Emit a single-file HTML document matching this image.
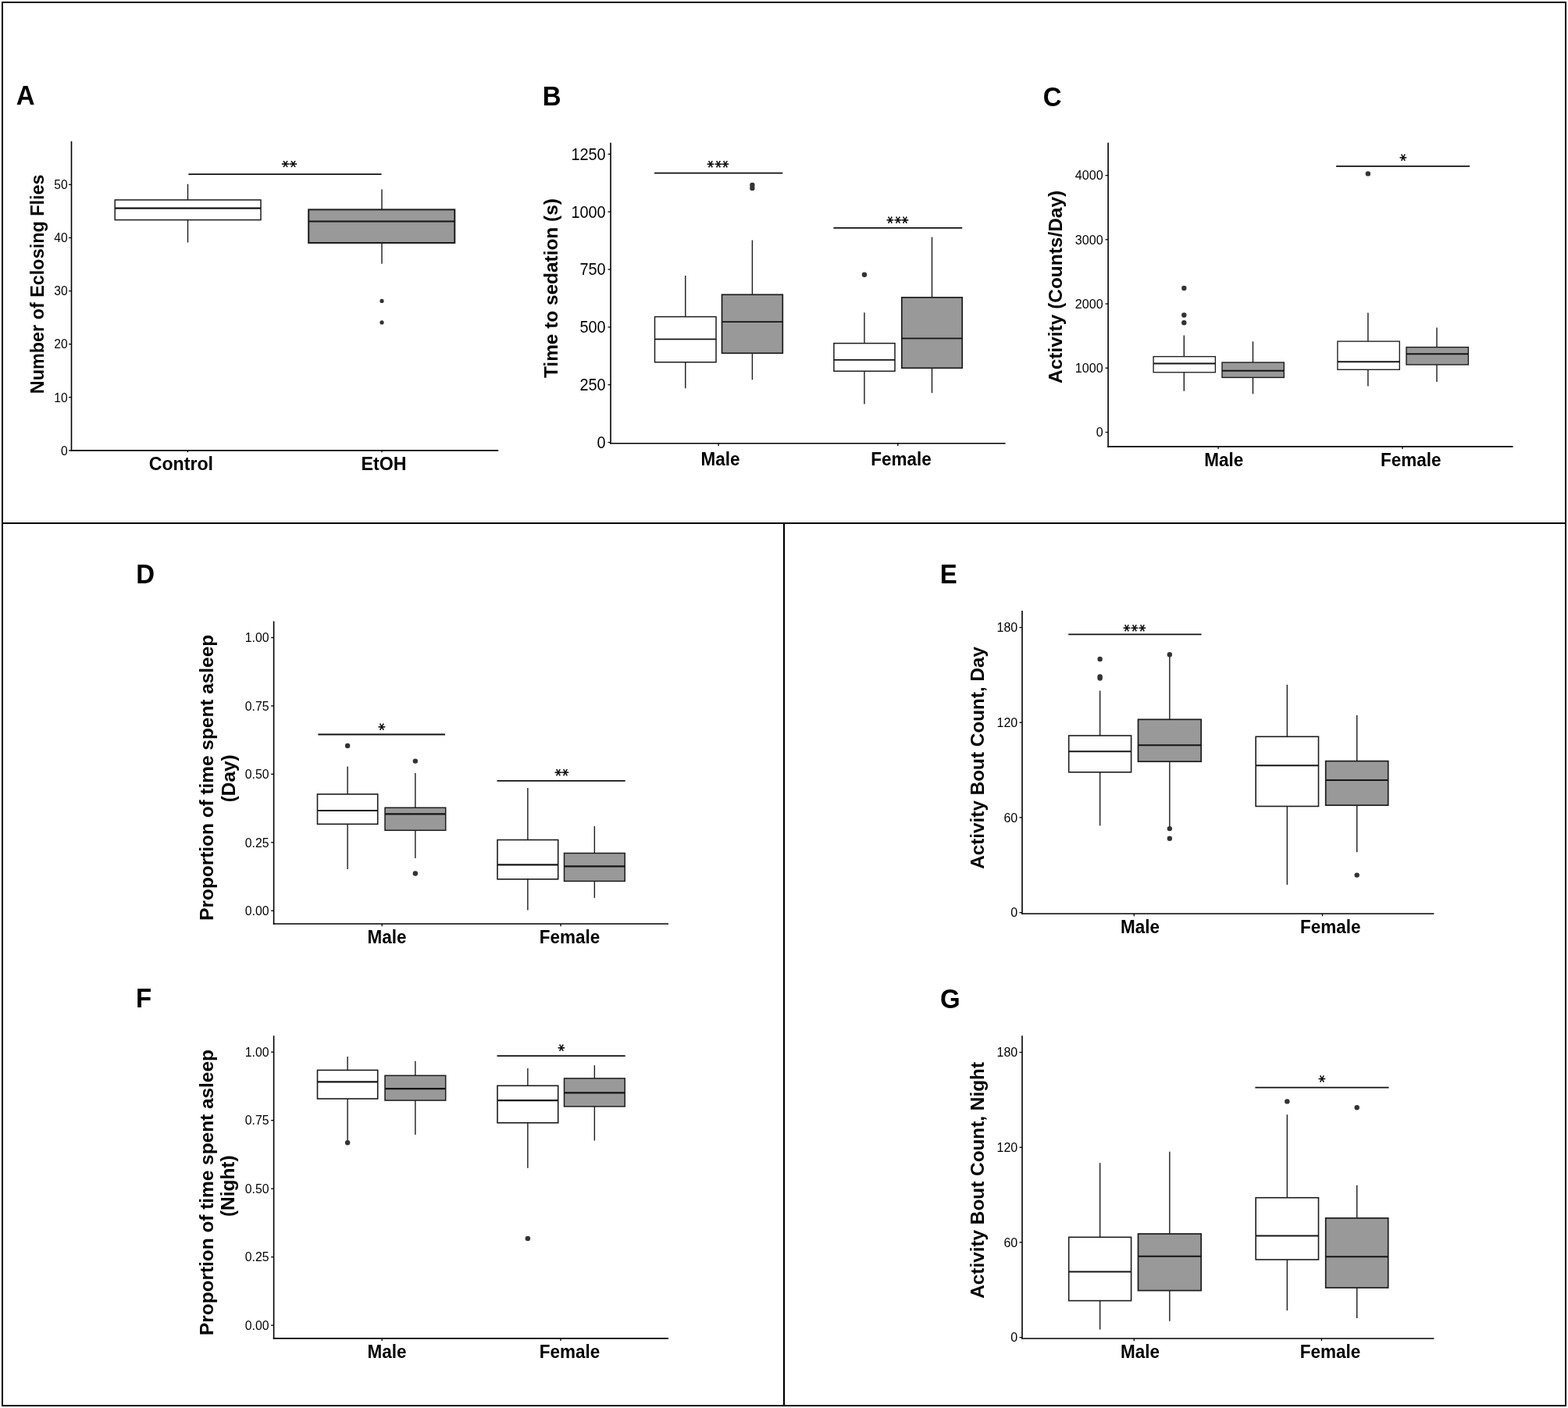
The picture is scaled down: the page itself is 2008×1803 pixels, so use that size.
<!DOCTYPE html>
<html><head><meta charset="utf-8"><title>Figure</title>
<style>html,body{margin:0;padding:0;background:#fff;}svg{display:block;}</style>
</head><body>
<svg width="2008" height="1803" viewBox="0 0 2008 1803">
<rect x="0" y="0" width="2008" height="1803" fill="#fff"/>
<rect x="3" y="3" width="2002" height="1797" fill="none" stroke="#000" stroke-width="2"/>
<line x1="3" y1="670" x2="2005" y2="670" stroke="#000" stroke-width="2"/>
<line x1="1004" y1="670" x2="1004" y2="1800" stroke="#000" stroke-width="2.2"/>
<text transform="translate(20.77 134) scale(1 1.05)" style='font-family:"Liberation Sans",Arial,sans-serif;font-weight:bold;font-size:33px'>A</text>
<text transform="translate(694.81 134.6) scale(1 1.05)" style='font-family:"Liberation Sans",Arial,sans-serif;font-weight:bold;font-size:33px'>B</text>
<text transform="translate(1335.67 135.5) scale(1 1.05)" style='font-family:"Liberation Sans",Arial,sans-serif;font-weight:bold;font-size:33px'>C</text>
<text transform="translate(174.37 747) scale(1 1.05)" style='font-family:"Liberation Sans",Arial,sans-serif;font-weight:bold;font-size:33px'>D</text>
<text transform="translate(1203.78 747.2) scale(1 1.05)" style='font-family:"Liberation Sans",Arial,sans-serif;font-weight:bold;font-size:33px'>E</text>
<text transform="translate(173.95 1290.4) scale(1 1.05)" style='font-family:"Liberation Sans",Arial,sans-serif;font-weight:bold;font-size:33px'>F</text>
<text transform="translate(1204.04 1290.6) scale(1 1.05)" style='font-family:"Liberation Sans",Arial,sans-serif;font-weight:bold;font-size:33px'>G</text>
<line x1="91.5" y1="181" x2="91.5" y2="577.7" stroke="#000" stroke-width="1.6"/>
<line x1="90.7" y1="576.9" x2="638.2" y2="576.9" stroke="#000" stroke-width="1.6"/>
<line x1="88" y1="576.9" x2="91.5" y2="576.9" stroke="#000" stroke-width="1.3"/>
<text transform="translate(78.03 582.61) scale(1 1.065)" style='font-family:"Liberation Sans",Arial,sans-serif;font-size:15.6px'>0</text>
<line x1="88" y1="508.8" x2="91.5" y2="508.8" stroke="#000" stroke-width="1.3"/>
<text transform="translate(69.37 514.51) scale(1 1.065)" style='font-family:"Liberation Sans",Arial,sans-serif;font-size:15.6px'>10</text>
<line x1="88" y1="440.7" x2="91.5" y2="440.7" stroke="#000" stroke-width="1.3"/>
<text transform="translate(69.37 446.41) scale(1 1.065)" style='font-family:"Liberation Sans",Arial,sans-serif;font-size:15.6px'>20</text>
<line x1="88" y1="372.6" x2="91.5" y2="372.6" stroke="#000" stroke-width="1.3"/>
<text transform="translate(69.37 378.31) scale(1 1.065)" style='font-family:"Liberation Sans",Arial,sans-serif;font-size:15.6px'>30</text>
<line x1="88" y1="304.5" x2="91.5" y2="304.5" stroke="#000" stroke-width="1.3"/>
<text transform="translate(69.37 310.21) scale(1 1.065)" style='font-family:"Liberation Sans",Arial,sans-serif;font-size:15.6px'>40</text>
<line x1="88" y1="236.4" x2="91.5" y2="236.4" stroke="#000" stroke-width="1.3"/>
<text transform="translate(69.37 242.11) scale(1 1.065)" style='font-family:"Liberation Sans",Arial,sans-serif;font-size:15.6px'>50</text>
<line x1="240.4" y1="576.9" x2="240.4" y2="579.2" stroke="#000" stroke-width="1.3"/>
<line x1="489" y1="576.9" x2="489" y2="579.2" stroke="#000" stroke-width="1.3"/>
<line x1="240.5" y1="235.7" x2="240.5" y2="256" stroke="#1c1c1c" stroke-width="1.4"/>
<line x1="240.5" y1="281.6" x2="240.5" y2="310.5" stroke="#1c1c1c" stroke-width="1.4"/>
<rect x="147.2" y="256" width="186.8" height="25.6" fill="#ffffff" stroke="#1c1c1c" stroke-width="1.5"/>
<line x1="147.2" y1="266.6" x2="334" y2="266.6" stroke="#151515" stroke-width="2.2"/>
<line x1="489" y1="242.4" x2="489" y2="268.4" stroke="#1c1c1c" stroke-width="1.4"/>
<line x1="489" y1="311" x2="489" y2="337.7" stroke="#1c1c1c" stroke-width="1.4"/>
<rect x="395.2" y="268.4" width="187.1" height="42.6" fill="#999999" stroke="#1c1c1c" stroke-width="2.0"/>
<line x1="395.2" y1="283.5" x2="582.3" y2="283.5" stroke="#151515" stroke-width="2.2"/>
<circle cx="489" cy="385.4" r="2.6" fill="#333"/>
<circle cx="489" cy="412.9" r="2.6" fill="#333"/>
<line x1="241.4" y1="223.2" x2="488.5" y2="223.2" stroke="#111" stroke-width="1.8"/>
<text transform="translate(355.71 205.49) scale(1 0.95)" rotate="90 90" stroke="#000" stroke-width="0.5" style='font-family:"DejaVu Sans",sans-serif;font-size:19px;letter-spacing:0.5px'>**</text>
<text x="56.5" y="504.22" transform="rotate(-90 56.5 504.22)" style='font-family:"Liberation Sans",Arial,sans-serif;font-weight:bold;font-size:23.4px'>Number of Eclosing Flies</text>
<text transform="translate(190.66 601.6) scale(1 1.05)" style='font-family:"Liberation Sans",Arial,sans-serif;font-weight:bold;font-size:23.2px'>Control</text>
<text transform="translate(462.55 601.6) scale(1 1.05)" style='font-family:"Liberation Sans",Arial,sans-serif;font-weight:bold;font-size:23.2px'>EtOH</text>
<line x1="782" y1="182.7" x2="782" y2="568.6" stroke="#000" stroke-width="1.6"/>
<line x1="781.2" y1="567.8" x2="1287.6" y2="567.8" stroke="#000" stroke-width="1.6"/>
<line x1="778.5" y1="566.5" x2="782" y2="566.5" stroke="#000" stroke-width="1.3"/>
<text transform="translate(764.6 573.79) scale(1 1.065)" style='font-family:"Liberation Sans",Arial,sans-serif;font-size:19.9px'>0</text>
<line x1="778.5" y1="492.68" x2="782" y2="492.68" stroke="#000" stroke-width="1.3"/>
<text transform="translate(742.46 499.97) scale(1 1.065)" style='font-family:"Liberation Sans",Arial,sans-serif;font-size:19.9px'>250</text>
<line x1="778.5" y1="418.86" x2="782" y2="418.86" stroke="#000" stroke-width="1.3"/>
<text transform="translate(742.46 426.15) scale(1 1.065)" style='font-family:"Liberation Sans",Arial,sans-serif;font-size:19.9px'>500</text>
<line x1="778.5" y1="345.04" x2="782" y2="345.04" stroke="#000" stroke-width="1.3"/>
<text transform="translate(742.46 352.33) scale(1 1.065)" style='font-family:"Liberation Sans",Arial,sans-serif;font-size:19.9px'>750</text>
<line x1="778.5" y1="271.22" x2="782" y2="271.22" stroke="#000" stroke-width="1.3"/>
<text transform="translate(731.42 278.51) scale(1 1.065)" style='font-family:"Liberation Sans",Arial,sans-serif;font-size:19.9px'>1000</text>
<line x1="778.5" y1="197.4" x2="782" y2="197.4" stroke="#000" stroke-width="1.3"/>
<text transform="translate(731.42 204.69) scale(1 1.065)" style='font-family:"Liberation Sans",Arial,sans-serif;font-size:19.9px'>1250</text>
<line x1="920.1" y1="567.8" x2="920.1" y2="571" stroke="#000" stroke-width="1.3"/>
<line x1="1149.8" y1="567.8" x2="1149.8" y2="571" stroke="#000" stroke-width="1.3"/>
<line x1="877.75" y1="353.1" x2="877.75" y2="405.6" stroke="#1c1c1c" stroke-width="1.4"/>
<line x1="877.75" y1="463.8" x2="877.75" y2="497.2" stroke="#1c1c1c" stroke-width="1.4"/>
<rect x="838.5" y="405.6" width="78.5" height="58.2" fill="#ffffff" stroke="#1c1c1c" stroke-width="1.5"/>
<line x1="838.5" y1="434.4" x2="917" y2="434.4" stroke="#151515" stroke-width="1.8"/>
<line x1="963.4" y1="307.6" x2="963.4" y2="377.3" stroke="#1c1c1c" stroke-width="1.4"/>
<line x1="963.4" y1="452.3" x2="963.4" y2="486.3" stroke="#1c1c1c" stroke-width="1.4"/>
<rect x="924.5" y="377.3" width="77.8" height="75" fill="#999999" stroke="#1c1c1c" stroke-width="1.7"/>
<line x1="924.5" y1="412.2" x2="1002.3" y2="412.2" stroke="#151515" stroke-width="1.8"/>
<circle cx="963.4" cy="237" r="3.2" fill="#333"/>
<circle cx="963.4" cy="241" r="3.2" fill="#333"/>
<line x1="1106.95" y1="400.2" x2="1106.95" y2="439.6" stroke="#1c1c1c" stroke-width="1.4"/>
<line x1="1106.95" y1="475.3" x2="1106.95" y2="517.5" stroke="#1c1c1c" stroke-width="1.4"/>
<rect x="1067.9" y="439.6" width="78.1" height="35.7" fill="#ffffff" stroke="#1c1c1c" stroke-width="1.5"/>
<line x1="1067.9" y1="460.8" x2="1146" y2="460.8" stroke="#151515" stroke-width="1.8"/>
<circle cx="1106.95" cy="351.7" r="3.2" fill="#333"/>
<line x1="1193.5" y1="303.6" x2="1193.5" y2="380.9" stroke="#1c1c1c" stroke-width="1.4"/>
<line x1="1193.5" y1="471.3" x2="1193.5" y2="503.2" stroke="#1c1c1c" stroke-width="1.4"/>
<rect x="1154.8" y="380.9" width="77.4" height="90.4" fill="#999999" stroke="#1c1c1c" stroke-width="1.7"/>
<line x1="1154.8" y1="433.4" x2="1232.2" y2="433.4" stroke="#151515" stroke-width="1.8"/>
<line x1="838" y1="221.6" x2="1002.3" y2="221.6" stroke="#111" stroke-width="1.8"/>
<text transform="translate(901.04 205.57) scale(1 1.07)" rotate="90 90 90" stroke="#000" stroke-width="0.5" style='font-family:"DejaVu Sans",sans-serif;font-size:17.5px;letter-spacing:0.95px'>***</text>
<line x1="1067.4" y1="291.8" x2="1232.2" y2="291.8" stroke="#111" stroke-width="1.8"/>
<text transform="translate(1131.04 276.97) scale(1 1.07)" rotate="90 90 90" stroke="#000" stroke-width="0.5" style='font-family:"DejaVu Sans",sans-serif;font-size:17.5px;letter-spacing:0.95px'>***</text>
<text x="713.7" y="484.08" transform="rotate(-90 713.7 484.08)" style='font-family:"Liberation Sans",Arial,sans-serif;font-weight:bold;font-size:24.4px'>Time to sedation (s)</text>
<text transform="translate(897.5 595.9) scale(1 1.03)" style='font-family:"Liberation Sans",Arial,sans-serif;font-weight:bold;font-size:22.5px'>Male</text>
<text transform="translate(1115.3 595.9) scale(1 1.03)" style='font-family:"Liberation Sans",Arial,sans-serif;font-weight:bold;font-size:22.5px'>Female</text>
<line x1="1419.1" y1="182.7" x2="1419.1" y2="572.7" stroke="#000" stroke-width="1.6"/>
<line x1="1418.3" y1="571.9" x2="1937.6" y2="571.9" stroke="#000" stroke-width="1.6"/>
<line x1="1415.6" y1="553.5" x2="1419.1" y2="553.5" stroke="#000" stroke-width="1.3"/>
<text transform="translate(1403.67 559.39) scale(1 1.065)" style='font-family:"Liberation Sans",Arial,sans-serif;font-size:16.1px'>0</text>
<line x1="1415.6" y1="471.27" x2="1419.1" y2="471.27" stroke="#000" stroke-width="1.3"/>
<text transform="translate(1376.82 477.17) scale(1 1.065)" style='font-family:"Liberation Sans",Arial,sans-serif;font-size:16.1px'>1000</text>
<line x1="1415.6" y1="389.05" x2="1419.1" y2="389.05" stroke="#000" stroke-width="1.3"/>
<text transform="translate(1376.82 394.94) scale(1 1.065)" style='font-family:"Liberation Sans",Arial,sans-serif;font-size:16.1px'>2000</text>
<line x1="1415.6" y1="306.82" x2="1419.1" y2="306.82" stroke="#000" stroke-width="1.3"/>
<text transform="translate(1376.82 312.72) scale(1 1.065)" style='font-family:"Liberation Sans",Arial,sans-serif;font-size:16.1px'>3000</text>
<line x1="1415.6" y1="224.6" x2="1419.1" y2="224.6" stroke="#000" stroke-width="1.3"/>
<text transform="translate(1376.82 230.49) scale(1 1.065)" style='font-family:"Liberation Sans",Arial,sans-serif;font-size:16.1px'>4000</text>
<line x1="1560.1" y1="571.9" x2="1560.1" y2="575.1" stroke="#000" stroke-width="1.3"/>
<line x1="1796" y1="571.9" x2="1796" y2="575.1" stroke="#000" stroke-width="1.3"/>
<line x1="1516.3" y1="429.5" x2="1516.3" y2="456.6" stroke="#1c1c1c" stroke-width="1.4"/>
<line x1="1516.3" y1="476.8" x2="1516.3" y2="500.7" stroke="#1c1c1c" stroke-width="1.4"/>
<rect x="1477.1" y="456.6" width="79.3" height="20.2" fill="#ffffff" stroke="#1c1c1c" stroke-width="1.35"/>
<line x1="1477.1" y1="465.5" x2="1556.4" y2="465.5" stroke="#151515" stroke-width="2.1"/>
<circle cx="1516.3" cy="369" r="3.2" fill="#333"/>
<circle cx="1516.3" cy="403.5" r="3.2" fill="#333"/>
<circle cx="1516.3" cy="413.3" r="3.2" fill="#333"/>
<line x1="1604.5" y1="437.3" x2="1604.5" y2="464.1" stroke="#1c1c1c" stroke-width="1.4"/>
<line x1="1604.5" y1="483.4" x2="1604.5" y2="504.4" stroke="#1c1c1c" stroke-width="1.4"/>
<rect x="1565" y="464.1" width="79.3" height="19.3" fill="#999999" stroke="#1c1c1c" stroke-width="1.4"/>
<line x1="1565" y1="474.7" x2="1644.3" y2="474.7" stroke="#151515" stroke-width="2.1"/>
<line x1="1751.9" y1="400.4" x2="1751.9" y2="437.1" stroke="#1c1c1c" stroke-width="1.4"/>
<line x1="1751.9" y1="473.3" x2="1751.9" y2="494.5" stroke="#1c1c1c" stroke-width="1.4"/>
<rect x="1712.9" y="437.1" width="79.4" height="36.2" fill="#ffffff" stroke="#1c1c1c" stroke-width="1.35"/>
<line x1="1712.9" y1="463.3" x2="1792.3" y2="463.3" stroke="#151515" stroke-width="2.1"/>
<circle cx="1751.9" cy="222.4" r="3.2" fill="#333"/>
<line x1="1840" y1="419.6" x2="1840" y2="444.6" stroke="#1c1c1c" stroke-width="1.4"/>
<line x1="1840" y1="467" x2="1840" y2="489" stroke="#1c1c1c" stroke-width="1.4"/>
<rect x="1801" y="444.6" width="79.4" height="22.4" fill="#999999" stroke="#1c1c1c" stroke-width="1.4"/>
<line x1="1801" y1="453.3" x2="1880.4" y2="453.3" stroke="#151515" stroke-width="2.1"/>
<line x1="1711.1" y1="212.9" x2="1882.1" y2="212.9" stroke="#111" stroke-width="1.8"/>
<text transform="translate(1787.89 196.92) scale(1 1.07)" rotate="90" stroke="#000" stroke-width="0.5" style='font-family:"DejaVu Sans",sans-serif;font-size:17.5px;letter-spacing:0.95px'>*</text>
<text x="1360.1" y="490.92" transform="rotate(-90 1360.1 490.92)" style='font-family:"Liberation Sans",Arial,sans-serif;font-weight:bold;font-size:24.45px'>Activity (Counts/Day)</text>
<text transform="translate(1542.3 596.9) scale(1 1.03)" style='font-family:"Liberation Sans",Arial,sans-serif;font-weight:bold;font-size:22.5px'>Male</text>
<text transform="translate(1768.1 596.9) scale(1 1.03)" style='font-family:"Liberation Sans",Arial,sans-serif;font-weight:bold;font-size:22.5px'>Female</text>
<line x1="350.6" y1="795.6" x2="350.6" y2="1183.8" stroke="#000" stroke-width="1.6"/>
<line x1="349.8" y1="1183" x2="856" y2="1183" stroke="#000" stroke-width="1.6"/>
<line x1="347.1" y1="1166.2" x2="350.6" y2="1166.2" stroke="#000" stroke-width="1.3"/>
<text transform="translate(313.76 1171.98) scale(1 1.065)" style='font-family:"Liberation Sans",Arial,sans-serif;font-size:15.8px'>0.00</text>
<line x1="347.1" y1="1078.78" x2="350.6" y2="1078.78" stroke="#000" stroke-width="1.3"/>
<text transform="translate(313.8 1084.56) scale(1 1.065)" style='font-family:"Liberation Sans",Arial,sans-serif;font-size:15.8px'>0.25</text>
<line x1="347.1" y1="991.35" x2="350.6" y2="991.35" stroke="#000" stroke-width="1.3"/>
<text transform="translate(313.76 997.13) scale(1 1.065)" style='font-family:"Liberation Sans",Arial,sans-serif;font-size:15.8px'>0.50</text>
<line x1="347.1" y1="903.93" x2="350.6" y2="903.93" stroke="#000" stroke-width="1.3"/>
<text transform="translate(313.8 909.71) scale(1 1.065)" style='font-family:"Liberation Sans",Arial,sans-serif;font-size:15.8px'>0.75</text>
<line x1="347.1" y1="816.5" x2="350.6" y2="816.5" stroke="#000" stroke-width="1.3"/>
<text transform="translate(313.76 822.28) scale(1 1.065)" style='font-family:"Liberation Sans",Arial,sans-serif;font-size:15.8px'>1.00</text>
<line x1="489.2" y1="1183" x2="489.2" y2="1186.2" stroke="#000" stroke-width="1.3"/>
<line x1="718" y1="1183" x2="718" y2="1186.2" stroke="#000" stroke-width="1.3"/>
<line x1="445.1" y1="981.5" x2="445.1" y2="1017" stroke="#1c1c1c" stroke-width="1.4"/>
<line x1="445.1" y1="1055.3" x2="445.1" y2="1113" stroke="#1c1c1c" stroke-width="1.4"/>
<rect x="406.5" y="1017" width="77.2" height="38.3" fill="#ffffff" stroke="#1c1c1c" stroke-width="1.6"/>
<line x1="406.5" y1="1038" x2="483.7" y2="1038" stroke="#151515" stroke-width="2.2"/>
<circle cx="445.1" cy="955" r="3.2" fill="#333"/>
<line x1="531.85" y1="990" x2="531.85" y2="1034.3" stroke="#1c1c1c" stroke-width="1.4"/>
<line x1="531.85" y1="1063.3" x2="531.85" y2="1099" stroke="#1c1c1c" stroke-width="1.4"/>
<rect x="493" y="1034.3" width="77.7" height="29" fill="#999999" stroke="#1c1c1c" stroke-width="1.5"/>
<line x1="493" y1="1042.4" x2="570.7" y2="1042.4" stroke="#151515" stroke-width="2.2"/>
<circle cx="531.85" cy="974.6" r="3.2" fill="#333"/>
<circle cx="531.85" cy="1118.5" r="3.2" fill="#333"/>
<line x1="675.85" y1="1009" x2="675.85" y2="1075.5" stroke="#1c1c1c" stroke-width="1.4"/>
<line x1="675.85" y1="1125.8" x2="675.85" y2="1165.5" stroke="#1c1c1c" stroke-width="1.4"/>
<rect x="637" y="1075.5" width="77.7" height="50.3" fill="#ffffff" stroke="#1c1c1c" stroke-width="1.6"/>
<line x1="637" y1="1107.3" x2="714.7" y2="1107.3" stroke="#151515" stroke-width="2.2"/>
<line x1="761.35" y1="1058" x2="761.35" y2="1092.5" stroke="#1c1c1c" stroke-width="1.4"/>
<line x1="761.35" y1="1128.4" x2="761.35" y2="1149.8" stroke="#1c1c1c" stroke-width="1.4"/>
<rect x="722.5" y="1092.5" width="77.7" height="35.9" fill="#999999" stroke="#1c1c1c" stroke-width="1.5"/>
<line x1="722.5" y1="1109.4" x2="800.2" y2="1109.4" stroke="#151515" stroke-width="2.2"/>
<line x1="407.3" y1="940.5" x2="570" y2="940.5" stroke="#111" stroke-width="1.8"/>
<text transform="translate(479.89 926.12) scale(1 1.07)" rotate="90" stroke="#000" stroke-width="0.5" style='font-family:"DejaVu Sans",sans-serif;font-size:17.5px;letter-spacing:0.95px'>*</text>
<line x1="636.5" y1="999.9" x2="800.7" y2="999.9" stroke="#111" stroke-width="1.8"/>
<text transform="translate(705.79 984.42) scale(1 1.07)" rotate="90 90" stroke="#000" stroke-width="0.5" style='font-family:"DejaVu Sans",sans-serif;font-size:17.5px;letter-spacing:0.95px'>**</text>
<text x="273.3" y="1178.77" transform="rotate(-90 273.3 1178.77)" style='font-family:"Liberation Sans",Arial,sans-serif;font-weight:bold;font-size:24.4px'>Proportion of time spent asleep</text>
<text x="301.3" y="1027.35" transform="rotate(-90 301.3 1027.35)" style='font-family:"Liberation Sans",Arial,sans-serif;font-weight:bold;font-size:24.4px'>(Day)</text>
<text transform="translate(470.6 1207.6) scale(1 1.03)" style='font-family:"Liberation Sans",Arial,sans-serif;font-weight:bold;font-size:22.5px'>Male</text>
<text transform="translate(690.65 1207.6) scale(1 1.03)" style='font-family:"Liberation Sans",Arial,sans-serif;font-weight:bold;font-size:22.5px'>Female</text>
<line x1="350.6" y1="1326.3" x2="350.6" y2="1714.7" stroke="#000" stroke-width="1.6"/>
<line x1="349.8" y1="1713.9" x2="856" y2="1713.9" stroke="#000" stroke-width="1.6"/>
<line x1="347.1" y1="1697.1" x2="350.6" y2="1697.1" stroke="#000" stroke-width="1.3"/>
<text transform="translate(313.76 1702.88) scale(1 1.065)" style='font-family:"Liberation Sans",Arial,sans-serif;font-size:15.8px'>0.00</text>
<line x1="347.1" y1="1609.62" x2="350.6" y2="1609.62" stroke="#000" stroke-width="1.3"/>
<text transform="translate(313.8 1615.41) scale(1 1.065)" style='font-family:"Liberation Sans",Arial,sans-serif;font-size:15.8px'>0.25</text>
<line x1="347.1" y1="1522.15" x2="350.6" y2="1522.15" stroke="#000" stroke-width="1.3"/>
<text transform="translate(313.76 1527.93) scale(1 1.065)" style='font-family:"Liberation Sans",Arial,sans-serif;font-size:15.8px'>0.50</text>
<line x1="347.1" y1="1434.67" x2="350.6" y2="1434.67" stroke="#000" stroke-width="1.3"/>
<text transform="translate(313.8 1440.46) scale(1 1.065)" style='font-family:"Liberation Sans",Arial,sans-serif;font-size:15.8px'>0.75</text>
<line x1="347.1" y1="1347.2" x2="350.6" y2="1347.2" stroke="#000" stroke-width="1.3"/>
<text transform="translate(313.76 1352.98) scale(1 1.065)" style='font-family:"Liberation Sans",Arial,sans-serif;font-size:15.8px'>1.00</text>
<line x1="489.2" y1="1713.9" x2="489.2" y2="1717.1" stroke="#000" stroke-width="1.3"/>
<line x1="718" y1="1713.9" x2="718" y2="1717.1" stroke="#000" stroke-width="1.3"/>
<line x1="445.1" y1="1353.1" x2="445.1" y2="1370.4" stroke="#1c1c1c" stroke-width="1.4"/>
<line x1="445.1" y1="1407" x2="445.1" y2="1460" stroke="#1c1c1c" stroke-width="1.4"/>
<rect x="406.5" y="1370.4" width="77.2" height="36.6" fill="#ffffff" stroke="#1c1c1c" stroke-width="1.6"/>
<line x1="406.5" y1="1385.4" x2="483.7" y2="1385.4" stroke="#151515" stroke-width="2.2"/>
<circle cx="445.1" cy="1463.2" r="3.2" fill="#333"/>
<line x1="531.85" y1="1358.8" x2="531.85" y2="1377.3" stroke="#1c1c1c" stroke-width="1.4"/>
<line x1="531.85" y1="1409.1" x2="531.85" y2="1452.9" stroke="#1c1c1c" stroke-width="1.4"/>
<rect x="493" y="1377.3" width="77.7" height="31.8" fill="#999999" stroke="#1c1c1c" stroke-width="1.5"/>
<line x1="493" y1="1394.2" x2="570.7" y2="1394.2" stroke="#151515" stroke-width="2.2"/>
<line x1="675.85" y1="1367.9" x2="675.85" y2="1390.3" stroke="#1c1c1c" stroke-width="1.4"/>
<line x1="675.85" y1="1437.8" x2="675.85" y2="1495.7" stroke="#1c1c1c" stroke-width="1.4"/>
<rect x="637" y="1390.3" width="77.7" height="47.5" fill="#ffffff" stroke="#1c1c1c" stroke-width="1.6"/>
<line x1="637" y1="1409.1" x2="714.7" y2="1409.1" stroke="#151515" stroke-width="2.2"/>
<circle cx="675.85" cy="1585.9" r="3.2" fill="#333"/>
<line x1="761.35" y1="1364.2" x2="761.35" y2="1380.9" stroke="#1c1c1c" stroke-width="1.4"/>
<line x1="761.35" y1="1416.9" x2="761.35" y2="1460.5" stroke="#1c1c1c" stroke-width="1.4"/>
<rect x="722.5" y="1380.9" width="77.7" height="36" fill="#999999" stroke="#1c1c1c" stroke-width="1.5"/>
<line x1="722.5" y1="1399.4" x2="800.2" y2="1399.4" stroke="#151515" stroke-width="2.2"/>
<line x1="636.5" y1="1352.2" x2="800.7" y2="1352.2" stroke="#111" stroke-width="1.8"/>
<text transform="translate(709.99 1337.02) scale(1 1.07)" rotate="90" stroke="#000" stroke-width="0.5" style='font-family:"DejaVu Sans",sans-serif;font-size:17.5px;letter-spacing:0.95px'>*</text>
<text x="273.3" y="1710.02" transform="rotate(-90 273.3 1710.02)" style='font-family:"Liberation Sans",Arial,sans-serif;font-weight:bold;font-size:24.4px'>Proportion of time spent asleep</text>
<text x="300.5" y="1558.03" transform="rotate(-90 300.5 1558.03)" style='font-family:"Liberation Sans",Arial,sans-serif;font-weight:bold;font-size:24.4px'>(Night)</text>
<text transform="translate(470.5 1738.6) scale(1 1.03)" style='font-family:"Liberation Sans",Arial,sans-serif;font-weight:bold;font-size:22.5px'>Male</text>
<text transform="translate(690.65 1738.6) scale(1 1.03)" style='font-family:"Liberation Sans",Arial,sans-serif;font-weight:bold;font-size:22.5px'>Female</text>
<line x1="1309" y1="782.1" x2="1309" y2="1170.8" stroke="#000" stroke-width="1.6"/>
<line x1="1308.2" y1="1170" x2="1836.4" y2="1170" stroke="#000" stroke-width="1.6"/>
<line x1="1305.5" y1="1168.6" x2="1309" y2="1168.6" stroke="#000" stroke-width="1.3"/>
<text transform="translate(1294.32 1174.46) scale(1 1.065)" style='font-family:"Liberation Sans",Arial,sans-serif;font-size:16px'>0</text>
<line x1="1305.5" y1="1046.9" x2="1309" y2="1046.9" stroke="#000" stroke-width="1.3"/>
<text transform="translate(1285.44 1052.76) scale(1 1.065)" style='font-family:"Liberation Sans",Arial,sans-serif;font-size:16px'>60</text>
<line x1="1305.5" y1="925.2" x2="1309" y2="925.2" stroke="#000" stroke-width="1.3"/>
<text transform="translate(1276.52 931.06) scale(1 1.065)" style='font-family:"Liberation Sans",Arial,sans-serif;font-size:16px'>120</text>
<line x1="1305.5" y1="803.51" x2="1309" y2="803.51" stroke="#000" stroke-width="1.3"/>
<text transform="translate(1276.52 809.36) scale(1 1.065)" style='font-family:"Liberation Sans",Arial,sans-serif;font-size:16px'>180</text>
<line x1="1452.3" y1="1170" x2="1452.3" y2="1173.2" stroke="#000" stroke-width="1.3"/>
<line x1="1693.5" y1="1170" x2="1693.5" y2="1173.2" stroke="#000" stroke-width="1.3"/>
<line x1="1408.65" y1="884.4" x2="1408.65" y2="942" stroke="#1c1c1c" stroke-width="1.4"/>
<line x1="1408.65" y1="988.8" x2="1408.65" y2="1057.4" stroke="#1c1c1c" stroke-width="1.4"/>
<rect x="1368.7" y="942" width="79.9" height="46.8" fill="#ffffff" stroke="#1c1c1c" stroke-width="1.6"/>
<line x1="1368.7" y1="962.2" x2="1448.6" y2="962.2" stroke="#151515" stroke-width="2.0"/>
<circle cx="1408.65" cy="844" r="3.2" fill="#333"/>
<circle cx="1408.65" cy="866.5" r="3.2" fill="#333"/>
<circle cx="1408.65" cy="868.5" r="3.2" fill="#333"/>
<line x1="1497.85" y1="838.3" x2="1497.85" y2="921.3" stroke="#1c1c1c" stroke-width="1.4"/>
<line x1="1497.85" y1="975.2" x2="1497.85" y2="1061.1" stroke="#1c1c1c" stroke-width="1.4"/>
<rect x="1457.5" y="921.3" width="80.7" height="53.9" fill="#999999" stroke="#1c1c1c" stroke-width="1.7"/>
<line x1="1457.5" y1="954.2" x2="1538.2" y2="954.2" stroke="#151515" stroke-width="2.0"/>
<circle cx="1497.85" cy="838.3" r="3.2" fill="#333"/>
<circle cx="1497.85" cy="1061.1" r="3.2" fill="#333"/>
<circle cx="1497.85" cy="1073.8" r="3.2" fill="#333"/>
<line x1="1648.35" y1="876.8" x2="1648.35" y2="943.3" stroke="#1c1c1c" stroke-width="1.4"/>
<line x1="1648.35" y1="1032.5" x2="1648.35" y2="1132.9" stroke="#1c1c1c" stroke-width="1.4"/>
<rect x="1608.2" y="943.3" width="80.3" height="89.2" fill="#ffffff" stroke="#1c1c1c" stroke-width="1.6"/>
<line x1="1608.2" y1="980.3" x2="1688.5" y2="980.3" stroke="#151515" stroke-width="2.0"/>
<line x1="1737.7" y1="915.9" x2="1737.7" y2="974.6" stroke="#1c1c1c" stroke-width="1.4"/>
<line x1="1737.7" y1="1031.2" x2="1737.7" y2="1091.2" stroke="#1c1c1c" stroke-width="1.4"/>
<rect x="1697.7" y="974.6" width="80" height="56.6" fill="#999999" stroke="#1c1c1c" stroke-width="1.7"/>
<line x1="1697.7" y1="999.1" x2="1777.7" y2="999.1" stroke="#151515" stroke-width="2.0"/>
<circle cx="1737.7" cy="1120.6" r="3.2" fill="#333"/>
<line x1="1368.2" y1="812.3" x2="1538.6" y2="812.3" stroke="#111" stroke-width="1.8"/>
<text transform="translate(1434.19 799.62) scale(1 1.07)" rotate="90 90 90" stroke="#000" stroke-width="0.5" style='font-family:"DejaVu Sans",sans-serif;font-size:17.5px;letter-spacing:0.95px'>***</text>
<text x="1260.1" y="1112.82" transform="rotate(-90 1260.1 1112.82)" style='font-family:"Liberation Sans",Arial,sans-serif;font-weight:bold;font-size:24.3px'>Activity Bout Count, Day</text>
<text transform="translate(1435.1 1194.8) scale(1 1.03)" style='font-family:"Liberation Sans",Arial,sans-serif;font-weight:bold;font-size:22.5px'>Male</text>
<text transform="translate(1664.9 1194.8) scale(1 1.03)" style='font-family:"Liberation Sans",Arial,sans-serif;font-weight:bold;font-size:22.5px'>Female</text>
<line x1="1309" y1="1326.3" x2="1309" y2="1714.8" stroke="#000" stroke-width="1.6"/>
<line x1="1308.2" y1="1714" x2="1836.4" y2="1714" stroke="#000" stroke-width="1.6"/>
<line x1="1305.5" y1="1712.6" x2="1309" y2="1712.6" stroke="#000" stroke-width="1.3"/>
<text transform="translate(1294.32 1718.46) scale(1 1.065)" style='font-family:"Liberation Sans",Arial,sans-serif;font-size:16px'>0</text>
<line x1="1305.5" y1="1590.9" x2="1309" y2="1590.9" stroke="#000" stroke-width="1.3"/>
<text transform="translate(1285.44 1596.76) scale(1 1.065)" style='font-family:"Liberation Sans",Arial,sans-serif;font-size:16px'>60</text>
<line x1="1305.5" y1="1469.2" x2="1309" y2="1469.2" stroke="#000" stroke-width="1.3"/>
<text transform="translate(1276.52 1475.06) scale(1 1.065)" style='font-family:"Liberation Sans",Arial,sans-serif;font-size:16px'>120</text>
<line x1="1305.5" y1="1347.51" x2="1309" y2="1347.51" stroke="#000" stroke-width="1.3"/>
<text transform="translate(1276.52 1353.36) scale(1 1.065)" style='font-family:"Liberation Sans",Arial,sans-serif;font-size:16px'>180</text>
<line x1="1452.3" y1="1714" x2="1452.3" y2="1717.2" stroke="#000" stroke-width="1.3"/>
<line x1="1692.4" y1="1714" x2="1692.4" y2="1717.2" stroke="#000" stroke-width="1.3"/>
<line x1="1408.65" y1="1489.2" x2="1408.65" y2="1584.3" stroke="#1c1c1c" stroke-width="1.4"/>
<line x1="1408.65" y1="1665.6" x2="1408.65" y2="1702.5" stroke="#1c1c1c" stroke-width="1.4"/>
<rect x="1368.7" y="1584.3" width="79.9" height="81.3" fill="#ffffff" stroke="#1c1c1c" stroke-width="1.6"/>
<line x1="1368.7" y1="1628.4" x2="1448.6" y2="1628.4" stroke="#151515" stroke-width="2.0"/>
<line x1="1497.85" y1="1474.8" x2="1497.85" y2="1580" stroke="#1c1c1c" stroke-width="1.4"/>
<line x1="1497.85" y1="1652.6" x2="1497.85" y2="1691.8" stroke="#1c1c1c" stroke-width="1.4"/>
<rect x="1457.5" y="1580" width="80.7" height="72.6" fill="#999999" stroke="#1c1c1c" stroke-width="1.7"/>
<line x1="1457.5" y1="1608.8" x2="1538.2" y2="1608.8" stroke="#151515" stroke-width="2.0"/>
<line x1="1648.35" y1="1427.3" x2="1648.35" y2="1533.7" stroke="#1c1c1c" stroke-width="1.4"/>
<line x1="1648.35" y1="1613" x2="1648.35" y2="1678.2" stroke="#1c1c1c" stroke-width="1.4"/>
<rect x="1608.2" y="1533.7" width="80.3" height="79.3" fill="#ffffff" stroke="#1c1c1c" stroke-width="1.6"/>
<line x1="1608.2" y1="1582.5" x2="1688.5" y2="1582.5" stroke="#151515" stroke-width="2.0"/>
<circle cx="1648.35" cy="1410.4" r="3.2" fill="#333"/>
<line x1="1737.7" y1="1517.8" x2="1737.7" y2="1559.8" stroke="#1c1c1c" stroke-width="1.4"/>
<line x1="1737.7" y1="1649" x2="1737.7" y2="1688.1" stroke="#1c1c1c" stroke-width="1.4"/>
<rect x="1697.7" y="1559.8" width="80" height="89.2" fill="#999999" stroke="#1c1c1c" stroke-width="1.7"/>
<line x1="1697.7" y1="1609.3" x2="1777.7" y2="1609.3" stroke="#151515" stroke-width="2.0"/>
<circle cx="1737.7" cy="1418.2" r="3.2" fill="#333"/>
<line x1="1607.4" y1="1392.7" x2="1778.5" y2="1392.7" stroke="#111" stroke-width="1.8"/>
<text transform="translate(1684.34 1376.77) scale(1 1.07)" rotate="90" stroke="#000" stroke-width="0.5" style='font-family:"DejaVu Sans",sans-serif;font-size:17.5px;letter-spacing:0.95px'>*</text>
<text x="1260.1" y="1662.84" transform="rotate(-90 1260.1 1662.84)" style='font-family:"Liberation Sans",Arial,sans-serif;font-weight:bold;font-size:24.35px'>Activity Bout Count, Night</text>
<text transform="translate(1435.05 1738.6) scale(1 1.03)" style='font-family:"Liberation Sans",Arial,sans-serif;font-weight:bold;font-size:22.5px'>Male</text>
<text transform="translate(1664.65 1738.6) scale(1 1.03)" style='font-family:"Liberation Sans",Arial,sans-serif;font-weight:bold;font-size:22.5px'>Female</text>
</svg>
</body></html>
